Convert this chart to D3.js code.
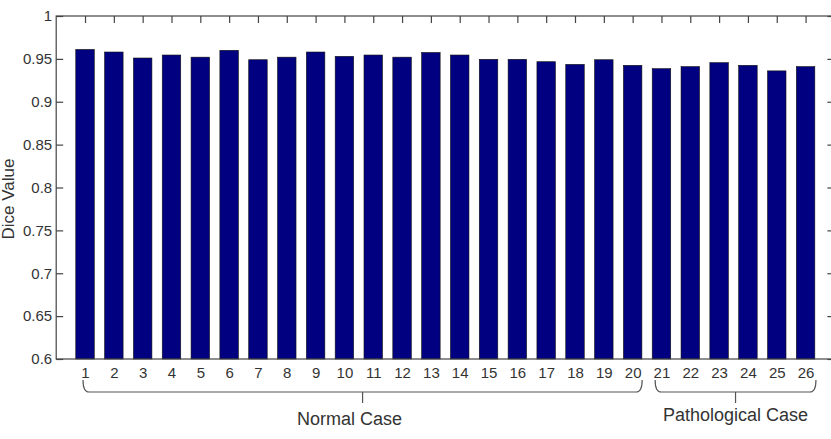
<!DOCTYPE html>
<html>
<head>
<meta charset="utf-8">
<script src="https://cdn.jsdelivr.net/npm/d3@7"></script>
<style>
  body { margin: 0; background: #fff; }
  svg text { font-family: "Liberation Sans", Arial, sans-serif; fill: #333; }
</style>
</head>
<body>
<div id="chart"></div>
<script>
// case numbers and dice scores
var cases = d3.range(1, 27)
var dice = [0.961, 0.958, 0.951, 0.9545, 0.952, 0.960, 0.949, 0.952, 0.958, 0.953,
            0.9545, 0.952, 0.9575, 0.9545, 0.9495, 0.9495, 0.9467, 0.9436, 0.949, 0.9425,
            0.9386, 0.941, 0.9456, 0.9425, 0.936, 0.941]
var yTicks = [0.6, 0.65, 0.7, 0.75, 0.8, 0.85, 0.9, 0.95, 1]
var groups = [
    { name: 'Normal Case', from: 0.93, to: 20.33 },
    { name: 'Pathological Case', from: 20.78, to: 26.36 }
]

var width = 831, height = 439

var svg = d3.select('#chart')
    .append('svg')
    .attr('width', width)
    .attr('height', height)

var x = d3.scaleLinear().domain([0, 27]).range([56.2, 834.4])
var y = d3.scaleLinear().domain([0.6, 1]).range([359, 16])
var barW = 18.5

// bars
svg.append('g')
    .selectAll('rect')
    .data(dice)
    .enter()
    .append('rect')
    .attr('x', function(d, i) { return x(cases[i]) - barW / 2 })
    .attr('y', function(d) { return y(d) })
    .attr('width', barW)
    .attr('height', function(d) { return y(0.6) - y(d) })
    .attr('fill', '#000080')
    .attr('stroke', '#111')
    .attr('stroke-width', 0.6)

// frame
svg.append('rect')
    .attr('x', x(0))
    .attr('y', y(1))
    .attr('width', x(27) - x(0))
    .attr('height', y(0.6) - y(1))
    .attr('fill', 'none')
    .attr('stroke', '#444')
    .attr('stroke-width', 1.2)

// y axis left
var yAxis = svg.append('g')
    .attr('transform', 'translate(' + x(0) + ',0)')
    .call(d3.axisLeft(y).tickValues(yTicks).tickSizeInner(-7).tickSizeOuter(0)
        .tickPadding(6).tickFormat(function(d) { return d3.format('')(+d.toFixed(2)) }))
yAxis.select('.domain').remove()
yAxis.selectAll('line').attr('stroke', '#444').attr('stroke-width', 1.2)
yAxis.selectAll('text').attr('font-size', 15).style('font-family', '"Liberation Sans", Arial, sans-serif')
    .attr('fill', '#333').attr('x', -4)

// y axis right ticks
var yRight = svg.append('g')
    .attr('transform', 'translate(' + x(27) + ',0)')
    .call(d3.axisRight(y).tickValues(yTicks).tickSizeInner(-7).tickSizeOuter(0).tickFormat(''))
yRight.select('.domain').remove()
yRight.selectAll('line').attr('stroke', '#444').attr('stroke-width', 1.2)

// x axis bottom
var xAxis = svg.append('g')
    .attr('transform', 'translate(0,' + y(0.6) + ')')
    .call(d3.axisBottom(x).tickValues(cases).tickSizeInner(0).tickSizeOuter(0).tickPadding(8))
xAxis.select('.domain').remove()
xAxis.selectAll('text').attr('font-size', 15).style('font-family', '"Liberation Sans", Arial, sans-serif')
    .attr('fill', '#333')

// x ticks on top
var xTop = svg.append('g')
    .attr('transform', 'translate(0,' + y(1) + ')')
    .call(d3.axisTop(x).tickValues(cases).tickSizeInner(-7).tickSizeOuter(0).tickFormat(''))
xTop.select('.domain').remove()
xTop.selectAll('line').attr('stroke', '#444').attr('stroke-width', 1.2)

// y label
svg.append('text')
    .attr('transform', 'translate(14,199) rotate(-90)')
    .attr('text-anchor', 'middle')
    .attr('font-size', 17)
    .attr('fill', '#333')
    .text('Dice Value')

// braces under the case numbers
var braceTop = 380, braceY = 392, r = 6
groups.forEach(function(g, i) {
    var x0 = x(g.from), x1 = x(g.to), xm = (x0 + x1) / 2
    var p = 'M' + x0 + ',' + braceTop +
        ' Q' + x0 + ',' + braceY + ' ' + (x0 + r) + ',' + braceY +
        ' L' + (x1 - r) + ',' + braceY +
        ' Q' + x1 + ',' + braceY + ' ' + x1 + ',' + braceTop +
        ' M' + xm + ',' + braceY + ' L' + xm + ',' + (braceY + 11)
    svg.append('path')
        .attr('d', p)
        .attr('fill', 'none')
        .attr('stroke', '#555')
        .attr('stroke-width', 1.2)
    svg.append('text')
        .attr('x', i == 0 ? xm - 13 : xm)
        .attr('y', i == 0 ? 425 : 421)
        .attr('text-anchor', 'middle')
        .attr('font-size', 18)
        .attr('fill', '#333')
        .text(g.name)
})
</script>
</body>
</html>
